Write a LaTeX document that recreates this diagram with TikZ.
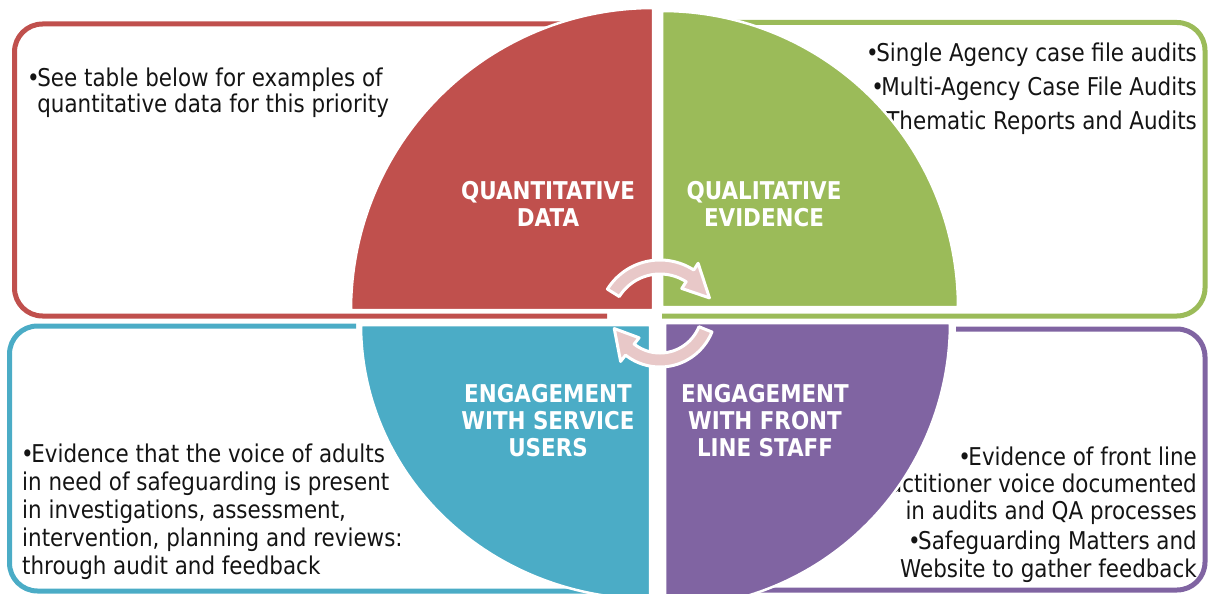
\documentclass[tikz,border=0pt]{standalone}
\usepackage{fontspec}
\setmainfont{DejaVu Sans}[FakeStretch=0.875]
\usetikzlibrary{calc}
\definecolor{cred}{HTML}{C0504D}
\definecolor{cgreen}{HTML}{9BBB59}
\definecolor{cblue}{HTML}{4BACC6}
\definecolor{cpurple}{HTML}{8064A2}
\definecolor{cpink}{RGB}{232,200,200}
\definecolor{ctext}{RGB}{20,20,20}
\newcommand{\bul}{•\kern-2.5pt}
\begin{document}
\begin{tikzpicture}[x=1pt,y=-1pt,
  boxline/.style={line width=5pt, rounded corners=28pt},
  pie/.style={draw=white, line width=2.5pt},
  body/.style={inner sep=0pt, font=\fontsize{24.5}{27}\selectfont, text=ctext},
  lbl/.style={inner sep=0pt, font=\fontsize{24.5}{27}\selectfont\bfseries, text=white, anchor=base},
  cyc/.style={fill=cpink, draw=white, line width=3pt, line join=round}]
\useasboundingbox (0,0) rectangle (1208,594);
\clip (0,0) rectangle (1208,594);

% outer rounded boxes
\draw[boxline, cred] (640,24) -- (14.5,24) -- (14.5,316) -- (607,316);
\draw[boxline, cgreen] (700,22.5) -- (1205,22.5) -- (1205,316) -- (662,316);
\draw[boxline, cblue] (356,326) -- (9.5,326) -- (9.5,591) -- (620,591);
\draw[boxline, cpurple] (956,329) -- (1205,329) -- (1205,590) -- (720,590);

% box texts
\node[body, anchor=base west] (r1) at (27,86) {\bul See table below for examples of};
\node[body, anchor=base west] (r2) at (27,113) {\hphantom{\bul}quantitative data for this priority};

\node[body, anchor=base east] (g1) at (1197,62) {\bul Single Agency case file audits};
\node[body, anchor=base east] (g2) at (1197,95.5) {\bul Multi-Agency Case File Audits};
\node[body, anchor=base east] (g3) at (1197,129) {\bul Thematic Reports and Audits};

\node[body, anchor=base west] (b1) at (21,462) {\bul Evidence that the voice of adults};
\node[body, anchor=base west] (b2) at (22,490) {in need of safeguarding is present};
\node[body, anchor=base west] (b3) at (22,518) {in investigations, assessment,};
\node[body, anchor=base west] (b4) at (22,546) {intervention, planning and reviews:};
\node[body, anchor=base west] (b5) at (22,574) {through audit and feedback};

\node[body, anchor=base east] (p1) at (1197,465) {\bul Evidence of front line};
\node[body, anchor=base east] (p2) at (1197,492) {practitioner voice documented};
\node[body, anchor=base east] (p3) at (1197,519) {in audits and QA processes};
\node[body, anchor=base east] (p4) at (1197,549) {\bul Safeguarding Matters and};
\node[body, anchor=base east] (p5) at (1197,577) {Website to gather feedback};

% quarter pies
\filldraw[pie, fill=cred] (653,310) -- plot[domain=180:270, samples=80] ({653+302*cos(\x)}, {310+302*sin(\x)}) -- cycle;
\filldraw[pie, fill=cgreen] (662,307) -- plot[domain=270:360, samples=80] ({662+296*cos(\x)}, {307+296*sin(\x)}) -- cycle;
\filldraw[pie, fill=cblue] (650,325) -- plot[domain=180:90, samples=80] ({650+289*cos(\x)}, {325+274*sin(\x)}) -- cycle;
\filldraw[pie, fill=cpurple] (665,323) -- plot[domain=0:90, samples=80] ({665+285*cos(\x)}, {323+285*sin(\x)}) -- cycle;

% pie labels
\node[lbl] (q1) at (548,199) {QUANTITATIVE};
\node[lbl] (q2) at (548,226) {DATA};
\node[lbl] (e1) at (764,199) {QUALITATIVE};
\node[lbl] (e2) at (764,226) {EVIDENCE};
\node[lbl] (s1) at (548,402) {ENGAGEMENT};
\node[lbl] (s2) at (548,429) {WITH SERVICE};
\node[lbl] (s3) at (548,456) {USERS};
\node[lbl] (f1) at (765,402) {ENGAGEMENT};
\node[lbl] (f2) at (765,429) {WITH FRONT};
\node[lbl] (f3) at (765,456) {LINE STAFF};

% cycle arrows
\filldraw[cyc] plot[domain=212:303, samples=40] ({660+62*cos(\x)},{322+62*sin(\x)})
  -- ({660+70*cos(303)},{322+70*sin(303)})
  -- ({660+55*cos(334)},{322+55*sin(334)})
  -- ({660+40*cos(303)},{322+40*sin(303)})
  -- plot[domain=303:212, samples=40] ({660+48*cos(\x)},{322+48*sin(\x)}) -- cycle;
\filldraw[cyc] plot[domain=22:128, samples=40] ({660+56*cos(\x)},{311+56*sin(\x)})
  -- ({660+64*cos(128)},{311+64*sin(128)})
  -- ({660+49*cos(159)},{311+49*sin(159)})
  -- ({660+34*cos(128)},{311+34*sin(128)})
  -- plot[domain=128:22, samples=40] ({660+42*cos(\x)},{311+42*sin(\x)}) -- cycle;
\end{tikzpicture}
\end{document}
